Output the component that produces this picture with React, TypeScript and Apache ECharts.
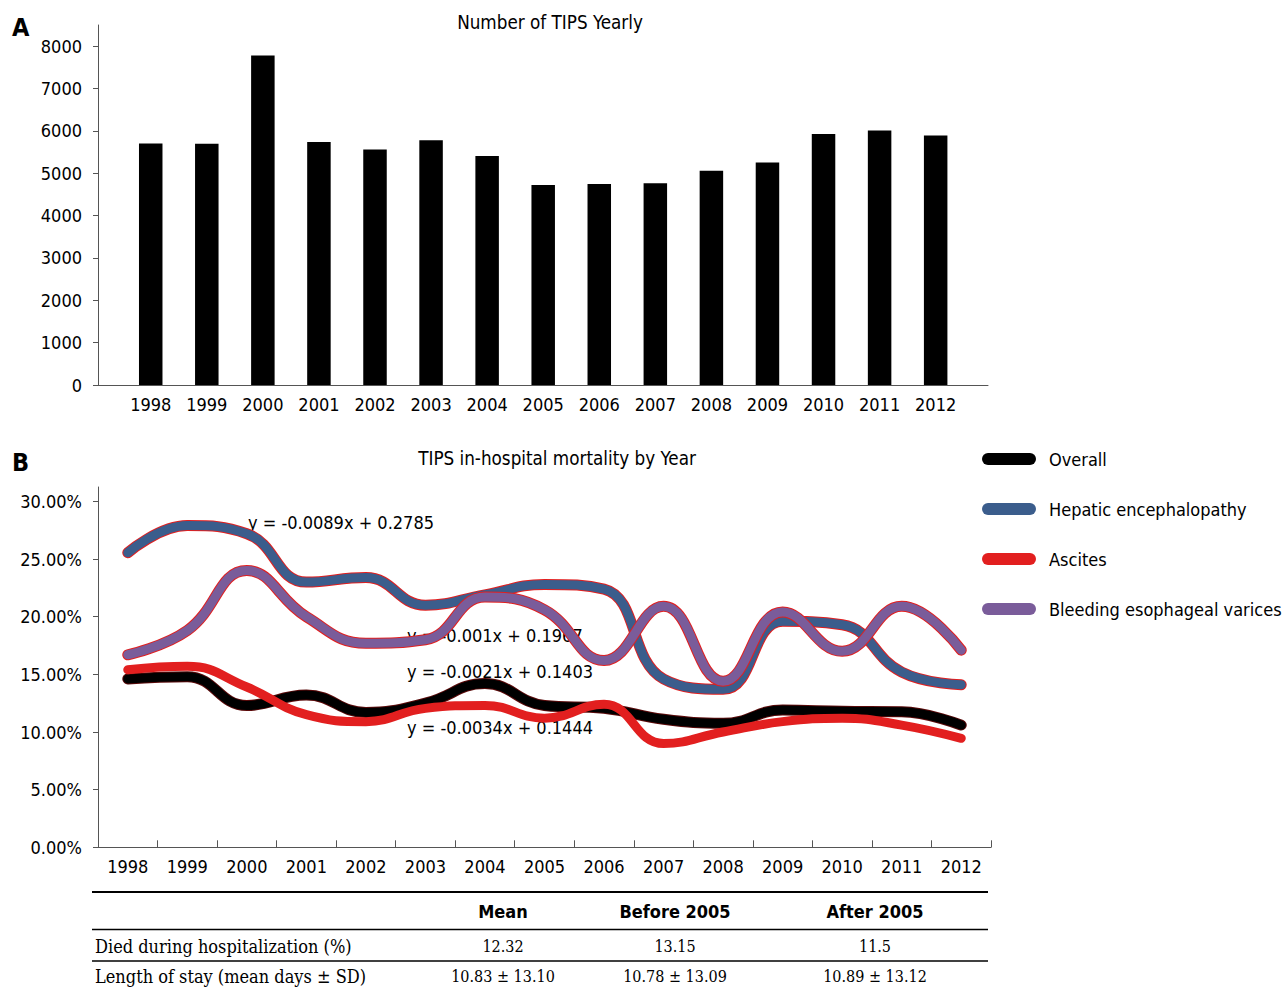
import React, { useEffect, useRef } from 'react';
import * as echarts from 'echarts';

const years = ['1998', '1999', '2000', '2001', '2002', '2003', '2004', '2005', '2006', '2007', '2008', '2009', '2010', '2011', '2012'];
const tipsCounts = [5705, 5695, 7780, 5735, 5560, 5780, 5405, 4720, 4745, 4765, 5060, 5255, 5925, 6010, 5890];
const barTicks = [0, 1000, 2000, 3000, 4000, 5000, 6000, 7000, 8000];

const overall = [14.6, 14.8, 12.3, 13.2, 11.7, 12.5, 14.2, 12.3, 12.05, 11.1, 10.75, 11.9, 11.8, 11.75, 10.6];
const hepatic = [25.55, 27.9, 27.2, 23.0, 23.4, 21.0, 21.9, 22.8, 22.4, 14.6, 13.7, 19.6, 19.3, 15.2, 14.1];
const ascites = [15.4, 15.7, 13.9, 11.5, 10.9, 12.05, 12.3, 11.2, 12.4, 9.0, 10.0, 10.9, 11.2, 10.6, 9.45];
const bleeding = [16.7, 18.8, 24.0, 20.0, 17.7, 18.0, 21.7, 20.6, 16.2, 20.9, 14.4, 20.4, 17.0, 20.9, 17.1];
const pctTicks = [0, 5, 10, 15, 20, 25, 30];

const seriesNames = ['Overall', 'Hepatic encephalopathy', 'Ascites', 'Bleeding esophageal varices'];
const seriesColors = ['#000000', '#3b5d8c', '#e21f1f', '#7a5c9a'];

const trendEquations = ['y = -0.0089x + 0.2785', 'y = -0.001x + 0.1967', 'y = -0.0021x + 0.1403', 'y = -0.0034x + 0.1444'];

const tableHeaders = ['Mean', 'Before 2005', 'After 2005'];
const tableRowLabels = ['Died during hospitalization (%)', 'Length of stay (mean days \u00b1 SD)'];
const tableDied = ['12.32', '13.15', '11.5'];
const tableStay = ['10.83 \u00b1 13.10', '10.78 \u00b1 13.09', '10.89 \u00b1 13.12'];

const SANS = "'DejaVu Sans Condensed', 'DejaVu Sans', sans-serif";
const SERIF = "'DejaVu Serif Condensed', 'Liberation Serif', serif";
const AXIS = '#555555';
const PILL = 'path://M6,0L48,0A6,6,0,0,1,48,12L6,12A6,6,0,0,1,6,0Z';

export default function App() {
  const ref = useRef<HTMLDivElement>(null);

  useEffect(() => {
    if (!ref.current) return;
    const chart = echarts.init(ref.current, undefined, { renderer: 'svg' });

    const lineData = [overall, hepatic, ascites, bleeding];
    const lineSeries: any[] = [];
    lineData.forEach((d, i) => {
      if (i !== 2) {
        lineSeries.push({
          type: 'line',
          name: seriesNames[i] + ' edge',
          xAxisIndex: 2,
          yAxisIndex: 2,
          data: d,
          smooth: 0.45,
          symbol: 'none',
          silent: true,
          lineStyle: { color: i === 0 ? '#5a0a0a' : '#e21f1f', width: 11, cap: 'round', join: 'round' },
          itemStyle: { color: '#e21f1f' },
        });
      }
      lineSeries.push({
        type: 'line',
        name: seriesNames[i],
        xAxisIndex: 2,
        yAxisIndex: 2,
        data: d,
        smooth: 0.45,
        symbol: 'none',
        lineStyle: { color: seriesColors[i], width: 9, cap: 'round', join: 'round' },
        itemStyle: { color: seriesColors[i] },
      });
    });

    const colX = [503, 675, 875];
    const graphics: any[] = [
      { type: 'text', x: 12, y: 27, style: { text: 'A', font: `bold 25px ${SANS}`, fill: '#000', textVerticalAlign: 'middle' } },
      { type: 'text', x: 550, y: 22, style: { text: 'Number of TIPS Yearly', font: `18.7px ${SANS}`, fill: '#000', textAlign: 'center', textVerticalAlign: 'middle' } },
      { type: 'text', x: 12, y: 462, style: { text: 'B', font: `bold 25px ${SANS}`, fill: '#000', textVerticalAlign: 'middle' } },
      { type: 'text', x: 557, y: 458, style: { text: 'TIPS in-hospital mortality by Year', font: `18.7px ${SANS}`, fill: '#000', textAlign: 'center', textVerticalAlign: 'middle' } },
      { type: 'text', x: 248, y: 522, style: { text: trendEquations[0], font: `18px ${SANS}`, fill: '#000', textVerticalAlign: 'middle' } },
      { type: 'text', x: 407, y: 635, style: { text: trendEquations[1], font: `18px ${SANS}`, fill: '#000', textVerticalAlign: 'middle' } },
      { type: 'text', x: 407, y: 671, style: { text: trendEquations[2], font: `18px ${SANS}`, fill: '#000', textVerticalAlign: 'middle' } },
      { type: 'text', x: 407, y: 727, style: { text: trendEquations[3], font: `18px ${SANS}`, fill: '#000', textVerticalAlign: 'middle' } },
      { type: 'line', shape: { x1: 92, y1: 892, x2: 988, y2: 892 }, style: { stroke: '#000', lineWidth: 2 } },
      { type: 'line', shape: { x1: 92, y1: 929.5, x2: 988, y2: 929.5 }, style: { stroke: '#000', lineWidth: 1.5 } },
      { type: 'line', shape: { x1: 92, y1: 961, x2: 988, y2: 961 }, style: { stroke: '#000', lineWidth: 1.5 } },
      { type: 'text', x: 95, y: 946, style: { text: tableRowLabels[0], font: `18px ${SERIF}`, fill: '#000', textVerticalAlign: 'middle' } },
      { type: 'text', x: 95, y: 976, style: { text: tableRowLabels[1], font: `18px ${SERIF}`, fill: '#000', textVerticalAlign: 'middle' } },
    ];
    tableHeaders.forEach((h, i) => {
      graphics.push({ type: 'text', x: colX[i], y: 911, style: { text: h, font: `bold 18px ${SANS}`, fill: '#000', textAlign: 'center', textVerticalAlign: 'middle' } });
    });
    tableDied.forEach((v, i) => {
      graphics.push({ type: 'text', x: colX[i], y: 946, style: { text: v, font: `16px ${SERIF}`, fill: '#000', textAlign: 'center', textVerticalAlign: 'middle' } });
    });
    tableStay.forEach((v, i) => {
      graphics.push({ type: 'text', x: colX[i], y: 976, style: { text: v, font: `16px ${SERIF}`, fill: '#000', textAlign: 'center', textVerticalAlign: 'middle' } });
    });

    const labelStyle = { color: '#000', fontSize: 18, fontFamily: SANS };

    chart.setOption({
      animation: false,
      backgroundColor: '#ffffff',
      grid: [
        { left: 122.7, top: 25, width: 841, height: 360 },
        { left: 98, top: 25, width: 890, height: 360 },
        { left: 98, top: 487, width: 893, height: 360.3 },
      ],
      xAxis: [
        {
          gridIndex: 0, type: 'category', data: years,
          axisLine: { show: false }, axisTick: { show: false },
          axisLabel: { ...labelStyle, margin: 10, interval: 0 },
        },
        {
          gridIndex: 1, type: 'value', min: 0, max: 1,
          axisLine: { show: true, lineStyle: { color: AXIS, width: 1 } },
          axisTick: { show: false }, axisLabel: { show: false }, splitLine: { show: false },
        },
        {
          gridIndex: 2, type: 'category', data: years, boundaryGap: true,
          axisLine: { show: true, lineStyle: { color: AXIS, width: 1 } },
          axisTick: { show: true, inside: true, length: 7, interval: 0, lineStyle: { color: AXIS } },
          axisLabel: { ...labelStyle, margin: 10, interval: 0 },
        },
      ],
      yAxis: [
        { gridIndex: 0, type: 'value', min: 0, max: 8500, show: false },
        {
          gridIndex: 1, type: 'value', min: 0, max: 8500,
          axisLine: { show: true, lineStyle: { color: AXIS, width: 1 } },
          axisTick: { show: true, length: 5, customValues: barTicks, lineStyle: { color: AXIS } },
          axisLabel: { ...labelStyle, margin: 16, customValues: barTicks, formatter: (v: number) => String(v) },
          splitLine: { show: false },
        },
        {
          gridIndex: 2, type: 'value', min: 0, max: 31.25,
          axisLine: { show: true, lineStyle: { color: AXIS, width: 1 } },
          axisTick: { show: true, length: 5, customValues: pctTicks, lineStyle: { color: AXIS } },
          axisLabel: { ...labelStyle, margin: 16, customValues: pctTicks, formatter: (v: number) => v.toFixed(2) + '%' },
          splitLine: { show: false },
        },
      ],
      legend: {
        orient: 'vertical',
        left: 977,
        top: 444,
        itemWidth: 54,
        itemHeight: 12,
        itemGap: 30,
        selectedMode: false,
        itemStyle: { borderWidth: 0 },
        data: seriesNames.map((n) => ({ name: n, icon: PILL })),
        textStyle: { color: '#000', fontSize: 18, fontFamily: SANS, lineHeight: 20, padding: [0, 0, 0, 8] },
      },
      series: [
        {
          type: 'bar',
          name: 'Number of TIPS',
          xAxisIndex: 0,
          yAxisIndex: 0,
          data: tipsCounts,
          barWidth: 23.5,
          itemStyle: { color: '#000' },
        },
        ...lineSeries,
      ],
      graphic: graphics,
    });

    return () => chart.dispose();
  }, []);

  return <div ref={ref} style={{ position: 'fixed', left: 0, top: 0, width: 1282, height: 987, background: '#fff' }} />;
}
